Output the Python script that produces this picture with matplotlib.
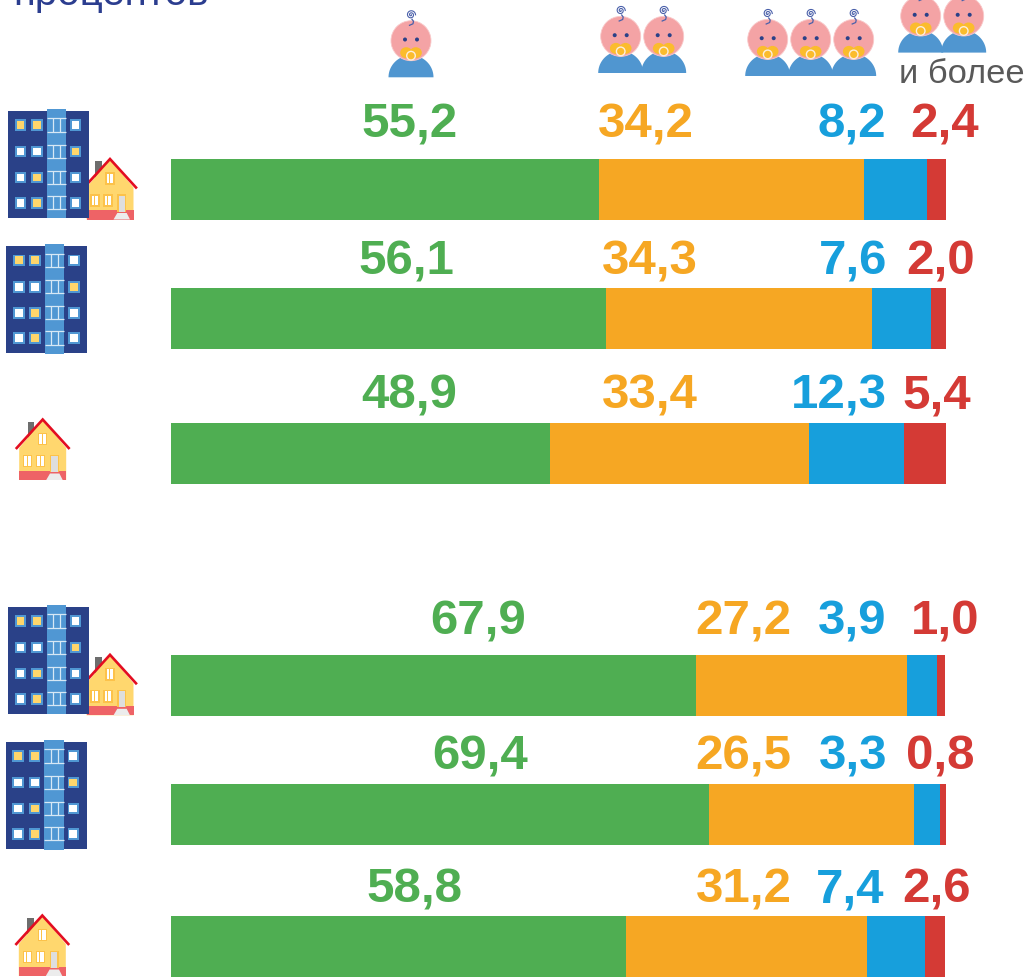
import numpy as np
import matplotlib
matplotlib.use('Agg')
import matplotlib.pyplot as plt
from matplotlib.patches import Circle, Ellipse, Polygon, Rectangle

# shares by number of children, top to bottom
one_child = [55.2, 56.1, 48.9, 67.9, 69.4, 58.8]
two_children = [34.2, 34.3, 33.4, 27.2, 26.5, 31.2]
three_children = [8.2, 7.6, 12.3, 3.9, 3.3, 7.4]
four_plus = [2.4, 2.0, 5.4, 1.0, 0.8, 2.6]

title_text = 'процентов'
more_text = 'и более'

series = [one_child, two_children, three_children, four_plus]
colors = ['#4fae52', '#f6a723', '#179fdc', '#d43a35']

W, H = 1027, 978

# layout in pixels
bar_centers = [190.5, 319.5, 454.5, 686.5, 815.5, 947.5]
bar_height = 61
bar_shift = [0, 0, 0, -0.13, 0, -0.13]
label_y = [125, 262, 396, 622, 757, 890]
label_x = [
    [410, 646, 852, 945],
    [406, 650, 853, 941],
    [409, 650, 839, 937],
    [478, 743, 852, 945],
    [480, 743, 853, 940],
    [414, 744, 850, 936],
]

fig = plt.figure(figsize=(W / 100, H / 100), dpi=100)
fig.patch.set_facecolor('white')

# bars: x is percent, y is figure pixels
ax = fig.add_axes([171 / W, 0, 775 / W, 1])
ax.set_xlim(0, 100)
ax.set_ylim(H, 0)
ax.axis('off')
for row, yc in enumerate(bar_centers):
    left = bar_shift[row]
    for s, c in zip(series, colors):
        ax.barh(yc, s[row], left=left, height=bar_height, color=c, linewidth=0)
        left += s[row]

# everything else sits on a pixel overlay
over = fig.add_axes([0, 0, 1, 1])
over.set_xlim(0, W)
over.set_ylim(H, 0)
over.axis('off')
over.patch.set_alpha(0)


def box(x0, y0, x1, y1, color, z=3):
    over.add_patch(Rectangle((x0, y0), x1 - x0, y1 - y0, facecolor=color, linewidth=0, zorder=z))


def draw_baby(cx, bottom):
    t = np.linspace(0, np.pi, 40)
    body = np.column_stack([cx + 22.5 * np.cos(t), bottom - 22 * np.sin(t)])
    over.add_patch(Polygon(body, closed=True, facecolor='#5096d0', linewidth=0, zorder=3))
    hy = bottom - 36.6
    over.add_patch(Circle((cx, hy), 20, facecolor='#f4a3a5', edgecolor='#f9c9ca', linewidth=0.6, zorder=4))
    # curl of hair
    a = np.linspace(0, 4 * np.pi, 60)
    r = 0.4 + 0.33 * a
    sx = cx + r * np.cos(a)
    sy = bottom - 62.5 + r * np.sin(a)
    over.plot(sx, sy, color='#4a60aa', lw=0.8, zorder=5)
    over.plot([cx + 1, cx + 2.5, cx + 2, cx - 1.5], [bottom - 58, bottom - 56, bottom - 53.5, bottom - 52],
              color='#4a60aa', lw=0.9, zorder=5)
    for dx in (-6, 6):
        over.add_patch(Circle((cx + dx, hy - 1.2), 2, facecolor='#2a4188', linewidth=0, zorder=5))
        over.add_patch(Ellipse((cx + dx * 0.8, hy + 12), 12, 11, facecolor='#fbbc2d', linewidth=0, zorder=5))
    over.add_patch(Circle((cx, hy + 15), 4.3, facecolor='#fbbc2d', edgecolor='#fdeedd', linewidth=1, zorder=6))


def draw_building(x0, top, bottom):
    x1 = x0 + 81
    box(x0, top, x1, bottom, '#2a4188')
    box(x0 + 38.8, top - 2.5, x0 + 58.2, bottom + 0.3, '#5097d3')
    cols = [12.7, 29, 67.7]
    rows = [14, 40.4, 66.4, 91.7]
    lit = [[1, 1, 0], [0, 0, 1], [0, 1, 0], [0, 1, 0]]
    for i, ry in enumerate(rows):
        wy = top + ry
        for j, rx in enumerate(cols):
            wx = x0 + rx
            box(wx - 5.8, wy - 5.8, wx + 5.8, wy + 5.8, '#5097d3', 4)
            box(wx - 3.9, wy - 3.9, wx + 3.9, wy + 3.9, '#ffd66b' if lit[i][j] else 'white', 5)
        sc = x0 + 48.5
        for dy in (-6.6, 6.6):
            over.plot([sc - 9.7, sc + 9.7], [wy + dy, wy + dy], color='#d7e8f5', lw=0.9, zorder=5,
                      solid_capstyle='butt')
        for dx in (-3.4, 3.4):
            over.plot([sc + dx, sc + dx], [wy - 6.6, wy + 6.6], color='#d7e8f5', lw=0.9, zorder=5,
                      solid_capstyle='butt')


def draw_house(cx, bottom):
    box(cx - 15, bottom - 58.5, cx - 8.4, bottom - 42, '#6d6d6d', 1)
    wall = [(cx - 23.5, bottom), (cx - 23.5, bottom - 32), (cx, bottom - 60),
            (cx + 23.5, bottom - 32), (cx + 23.5, bottom)]
    over.add_patch(Polygon(wall, closed=True, facecolor='#ffd76e', linewidth=0, zorder=2))
    box(cx - 23.5, bottom - 9.3, cx + 23.5, bottom, '#ee6366', 2)
    over.plot([cx - 26, cx, cx + 26], [bottom - 32, bottom - 60.5, bottom - 32],
              color='#e30d20', lw=1.9, zorder=3, solid_joinstyle='miter')
    for wx, wy in [(cx, bottom - 41), (cx - 15, bottom - 19), (cx - 2, bottom - 19)]:
        box(wx - 4.7, wy - 6.3, wx + 4.7, wy + 6.3, '#fcc24a', 3)
        box(wx - 3.3, wy - 4.9, wx + 3.3, wy + 4.9, 'white', 3)
        box(wx - 1.2, wy - 4.9, wx - 0.1, wy + 4.9, '#fcc24a', 3)
    box(cx + 7.4, bottom - 25.3, cx + 16.2, bottom - 8, '#fcc24a', 3)
    box(cx + 8.6, bottom - 24, cx + 15, bottom - 8, '#dedede', 3)
    over.add_patch(Polygon([(cx + 3.5, bottom), (cx + 7.3, bottom - 6.5), (cx + 16.7, bottom - 6.5), (cx + 20, bottom)],
                           closed=True, facecolor='#ececec', linewidth=0, zorder=4))


# header babies
for cx in [411]:
    draw_baby(cx, 78.3)
for cx in [620.7, 663.7]:
    draw_baby(cx, 74)
for cx in [767.7, 810.7, 853.7]:
    draw_baby(cx, 77)
for cx in [920.7, 963.7]:
    draw_baby(cx, 53.6)

# row icons
draw_house(110, 220.5)
draw_building(7.7, 112, 219)
draw_building(6.2, 247.3, 354.3)
draw_house(42.7, 481)
draw_house(110, 716.3)
draw_building(7.7, 608, 715)
draw_building(5.6, 743, 850.3)
draw_house(42.3, 977)

# value labels
for row in range(len(bar_centers)):
    for k, s in enumerate(series):
        over.text(label_x[row][k], label_y[row], f'{s[row]:.1f}'.replace('.', ','), color=colors[k],
                  fontsize=35.5, fontweight='bold', family='Liberation Sans', ha='center', va='center')

over.text(13, 5, title_text, color='#2b3d8f', fontsize=29, family='Liberation Sans', ha='left', va='baseline')
over.text(899, 83, more_text, color='#595959', fontsize=24.8, family='Liberation Sans', ha='left', va='baseline')

fig.savefig('out.png', dpi=100)
